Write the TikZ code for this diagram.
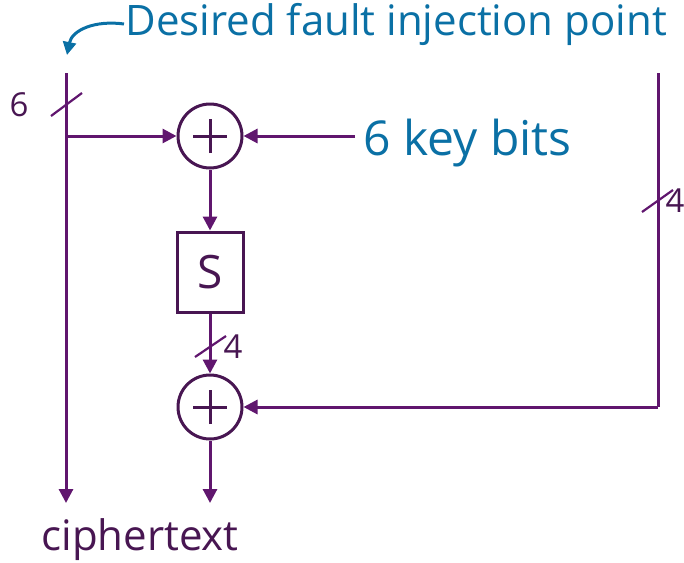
\documentclass[tikz,border=0pt]{standalone}
\usepackage{fontspec}
\setmainfont{Open Sans}
\usetikzlibrary{arrows.meta}
\definecolor{wire}{RGB}{96,22,110}
\definecolor{ink}{RGB}{72,22,82}
\definecolor{note}{RGB}{10,112,165}
\begin{document}
\begin{tikzpicture}[x=1pt,y=-1pt,
  line width=3pt,
  wirearrow/.style={draw=wire,-{Triangle[length=14pt,width=14pt]}},
  wireline/.style={draw=wire},
  xorgate/.style={circle,draw=ink,line width=3pt,minimum size=64pt,inner sep=0pt},
  sbox/.style={rectangle,draw=ink,line width=3pt,minimum width=66pt,minimum height=80pt,inner sep=0pt,text=ink,font=\fontsize{46}{50}\selectfont},
  busmark/.style={draw=wire,line width=2.2pt},
  buslabel/.style={text=ink,font=\fontsize{33}{36}\selectfont,inner sep=0pt},
  bigtext/.style={text=note,inner sep=0pt}]
\useasboundingbox (0,0) rectangle (684,562);

% gates
\node[xorgate] (x1) at (210,136) {};
\node[xorgate] (x2) at (210,407) {};
\node[sbox] (s) at (210,272) {S};
\foreach \g in {x1,x2}{
  \draw[ink,line width=3pt] ([xshift=-17pt]\g.center) -- ([xshift=17pt]\g.center);
  \draw[ink,line width=3pt] ([yshift=-17pt]\g.center) -- ([yshift=17pt]\g.center);
}

% wire endpoints
\coordinate (ltop) at (66,73);
\coordinate (lbranch) at (66,136);
\coordinate (lbot) at (66,503);
\coordinate (rtop) at (658,73);
\coordinate (rcorner) at (658,407);
\coordinate (keysrc) at (355,136);
\coordinate (outbot) at (210,503);

% wires
\draw[wirearrow] (ltop) -- (lbot);
\draw[wirearrow] (lbranch) -- (x1.west);
\draw[wirearrow] (keysrc) -- (x1.east);
\draw[wirearrow] (x1.south) -- (s.north);
\draw[wirearrow] (s.south) -- (x2.north);
\draw[wireline] (rtop) -- (rcorner);
\draw[wirearrow] (rcorner) -- (x2.east);
\draw[wirearrow] (x2.south) -- (outbot);

% bus width marks
\draw[busmark] (51,116) -- (82,93);
\node[buslabel] (w6) at (19,105) {6};
\draw[busmark] (195,357) -- (226,336);
\node[buslabel] (w4a) at (233,347) {4};
\draw[busmark] (642,212) -- (673,190);
\node[buslabel] (w4b) at (675,201) {4};

% labels
\node[bigtext,anchor=west,font=\fontsize{42}{46}\selectfont] (fault) at (124,24) {Desired fault injection point};
\node[bigtext,anchor=west,font=\fontsize{48}{52}\selectfont] (key) at (362,143) {6 key bits};
\node[text=ink,font=\fontsize{42}{46}\selectfont,inner sep=0pt] (ct) at (140,540) {ciphertext};

% pointer to the fault location
\coordinate (tip) at (67,55);
\draw[note,line width=3pt,-{Triangle[length=13pt,width=13pt]}]
  (fault.west) .. controls (95,20) and (72,30) .. (tip);
\end{tikzpicture}
\end{document}
